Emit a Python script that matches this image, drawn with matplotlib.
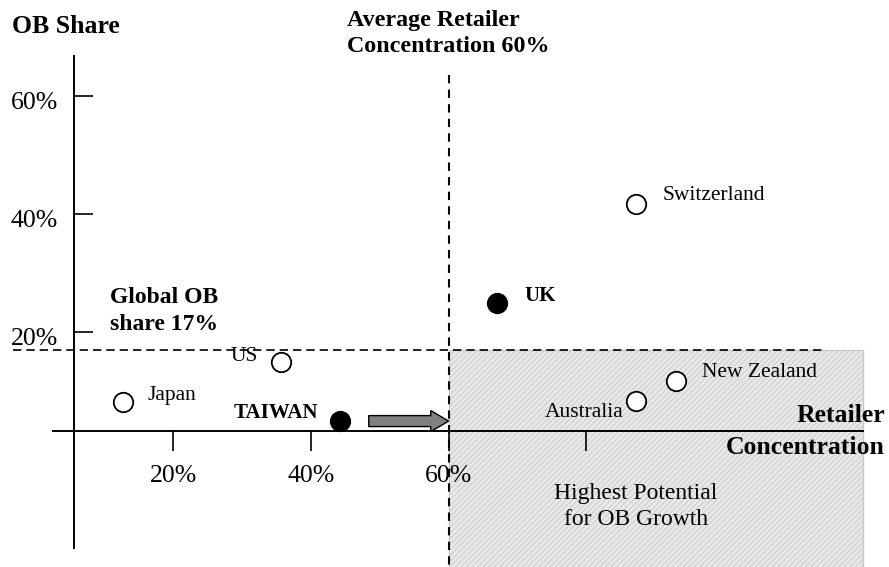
import matplotlib.pyplot as plt
from matplotlib.patches import Rectangle
from matplotlib.transforms import ScaledTranslation

plt.rcParams['font.family'] = ['Liberation Serif', 'DejaVu Serif']
plt.rcParams['hatch.color'] = '#d4d4d4'
plt.rcParams['hatch.linewidth'] = 0.6

# data (% values)
countries = ['Japan', 'US', 'TAIWAN', 'UK', 'Switzerland', 'Australia', 'New Zealand']
retailer_conc = [12.7, 35.7, 44.2, 67.0, 87.2, 87.2, 93.0]
ob_share = [8.1, 14.9, 4.9, 24.9, 41.7, 8.3, 11.7]
highlight = [False, False, True, True, False, False, False]

avg_conc = 60
global_ob = 17
x_ticks = [20, 40, 60, 80]
x_ticklabels = ['20%', '40%', '60%', '']
y_ticks = [20, 40, 60]
y_ticklabels = ['20%', '40%', '60%']

# label placement (pixels from marker, alignment)
label_offsets = [(25, 7, 'left'), (-23, 6, 'right'), (-22, 8, 'right'), (28, 7, 'left'),
                 (27, 8, 'left'), (-13, -11, 'right'), (26, 8, 'left')]

fig = plt.figure(figsize=(8.89, 5.67), dpi=100)
ax = fig.add_axes([0, 0, 1, 1])
ax.set_xlim(-5.11, 123.9)
ax.set_ylim(-19.83, 76.27)

# axes crossing point
x0, y0 = 5.63, 3.22
for s in ['top', 'right']:
    ax.spines[s].set_visible(False)
ax.spines['left'].set_position(('data', x0))
ax.spines['left'].set_bounds(-16.6, 66.8)
ax.spines['bottom'].set_position(('data', y0))
ax.spines['bottom'].set_bounds(2.6, 120.1)
for s in ['left', 'bottom']:
    ax.spines[s].set_linewidth(1.4)
    ax.spines[s].set_zorder(3)

ax.set_xticks(x_ticks, x_ticklabels)
ax.set_yticks(y_ticks, y_ticklabels)
ax.tick_params(axis='x', direction='out', length=14.4, width=1.2, labelsize=18.5, pad=10)
ax.tick_params(axis='y', direction='in', length=14, width=1.2, labelsize=18.5, pad=11.5)
for lab in ax.get_yticklabels():
    lab.set_transform(lab.get_transform() + ScaledTranslation(0, -5 / 100, fig.dpi_scale_trans))

# shaded quadrant
ax.add_patch(Rectangle((avg_conc, -25), 120.1 - avg_conc, global_ob + 25,
                       facecolor='#e8e8e8', edgecolor='#c8c8c8', hatch='//////',
                       lw=1.0, zorder=0))

# reference lines
ax.plot([avg_conc, avg_conc], [63.6, -25], ls=(0, (4, 3)), color='black', lw=1.5, zorder=2)
ax.plot([-3.2, 114.6], [global_ob, global_ob], ls=(0, (5, 3)), color='black', lw=1.2, zorder=2)

# arrow
ax.arrow(48.4, 4.9, avg_conc - 48.4, 0, width=1.86, head_width=3.56, head_length=2.6,
         length_includes_head=True, fc='#808080', ec='black', lw=1.0, zorder=4)

# points
for x, y, name, hl, (dx, dy, ha) in zip(retailer_conc, ob_share, countries, highlight, label_offsets):
    ax.plot(x, y, 'o', ms=14, mfc='black' if hl else 'white', mec='black', mew=1.3, zorder=5)
    ax.annotate(name, (x, y), xytext=(dx, dy), textcoords='offset pixels', ha=ha, va='center',
                fontsize=15.5 if not hl else 15, fontweight='bold' if hl else 'normal', zorder=6)

# annotations
ax.text(-3.37, 71.7, 'OB Share', fontsize=18.5, fontweight='bold', va='center', ha='left')
ax.text(45.25, 70.6, 'Average Retailer\nConcentration 60%', fontsize=17.3, fontweight='bold',
        va='center', ha='left', linespacing=1.35)
ax.text(10.86, 23.56, 'Global OB\nshare 17%', fontsize=17, fontweight='bold',
        va='center', ha='left', linespacing=1.35)
ax.text(123.3, 5.93, 'Retailer', fontsize=18.5, fontweight='bold', va='center', ha='right')
ax.text(123.3, 0.5, 'Concentration', fontsize=18.5, fontweight='bold', va='center', ha='right')
ax.text(87.2, -9.58, 'Highest Potential\nfor OB Growth', fontsize=17, va='center', ha='center',
        linespacing=1.35)

fig.savefig('out.png', dpi=100)
